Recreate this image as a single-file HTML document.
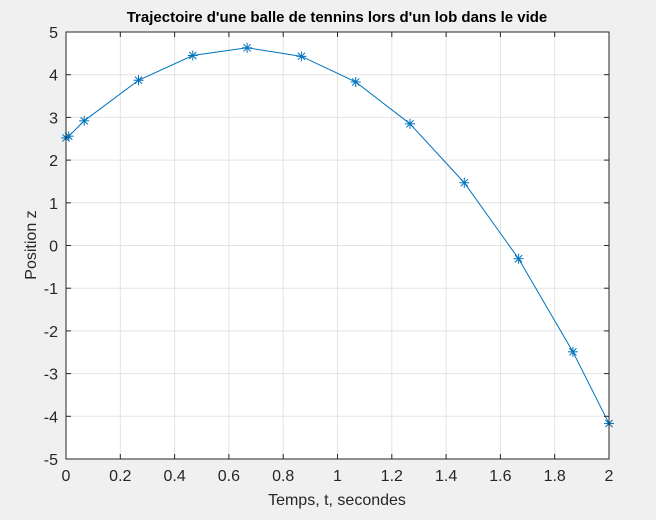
<!DOCTYPE html>
<html><head><meta charset="utf-8"><style>
html,body{margin:0;padding:0;background:#f0f0f0;}
svg{display:block;font-family:"Liberation Sans",Arial,sans-serif;}
</style></head><body>
<svg id="chart" width="656" height="520">
<rect x="0" y="0" width="656" height="520" fill="#f0f0f0"/>
<rect x="66" y="32" width="543" height="427" fill="#ffffff"/>
<g id="grid"></g>
<g id="series"></g>
<rect x="66" y="32" width="543" height="427" fill="none" stroke="#262626" stroke-width="1"/>
<g id="ticks"></g>
<text x="337" y="22" text-anchor="middle" font-size="15" font-weight="bold" fill="#000">Trajectoire d'une balle de tennins lors d'un lob dans le vide</text>
<text x="337" y="505" text-anchor="middle" font-size="16" fill="#262626">Temps, t, secondes</text>
<text transform="translate(36,245) rotate(-90)" text-anchor="middle" font-size="16" fill="#262626">Position z</text>
</svg>
<script>
var tValues=[0,0.01,0.067,0.267,0.467,0.667,0.867,1.067,1.267,1.467,1.667,1.867,2];
var zValues=[2.52,2.56,2.92,3.87,4.45,4.63,4.43,3.83,2.85,1.47,-0.31,-2.49,-4.17];
var xTicks=[0,0.2,0.4,0.6,0.8,1,1.2,1.4,1.6,1.8,2];
var xTickLabels=["0","0.2","0.4","0.6","0.8","1","1.2","1.4","1.6","1.8","2"];
var yTicks=[-5,-4,-3,-2,-1,0,1,2,3,4,5];
var yTickLabels=["-5","-4","-3","-2","-1","0","1","2","3","4","5"];
var NS="http://www.w3.org/2000/svg";
var L=66,R=609,T=32,B=459;
function xs(v){return L+(v-0)/(2-0)*(R-L);}
function ys(v){return B-(v+5)/10*(B-T);}
function mk(tag,attrs,parent){var e=document.createElementNS(NS,tag);for(var k in attrs)e.setAttribute(k,attrs[k]);parent.appendChild(e);return e;}
var grid=document.getElementById('grid'),ticks=document.getElementById('ticks'),series=document.getElementById('series');
xTicks.forEach(function(v,i){
 var x=xs(v);
 var g=mk('line',{x1:x,y1:T,x2:x,y2:B,stroke:'#e3e3e3','stroke-width':1},grid);
 
 
 var t1=mk('line',{x1:x,y1:B,x2:x,y2:B-5,stroke:'#262626'},ticks);
 
 
 var t2=mk('line',{x1:x,y1:T,x2:x,y2:T+5,stroke:'#262626'},ticks);
 
 
 var tx=mk('text',{x:x,y:B+22,'text-anchor':'middle','font-size':'16',fill:'#262626'},ticks);
 tx.textContent=xTickLabels[i];
 
 
});
yTicks.forEach(function(v,i){
 var y=ys(v);
 var g=mk('line',{x1:L,y1:y,x2:R,y2:y,stroke:'#e3e3e3','stroke-width':1},grid);
 
 
 var t1=mk('line',{x1:L,y1:y,x2:L+5,y2:y,stroke:'#262626'},ticks);
 
 
 var t2=mk('line',{x1:R,y1:y,x2:R-5,y2:y,stroke:'#262626'},ticks);
 
 
 var tx=mk('text',{x:L-8,y:y+6,'text-anchor':'end','font-size':'16',fill:'#262626'},ticks);
 tx.textContent=yTickLabels[i];
 
 
});
var pts=tValues.map(function(t,i){return xs(t)+','+ys(zValues[i]);}).join(' ');
var line=mk('polyline',{points:pts,fill:'none',stroke:'#0072bd','stroke-width':1},series);


tValues.forEach(function(t,i){
 var x=xs(t),y=ys(zValues[i]),s=5,d=3.6;
 var g=mk('g',{stroke:'#0072bd','stroke-width':1},series);
 
 
 mk('line',{x1:x-s,y1:y,x2:x+s,y2:y},g);
 mk('line',{x1:x,y1:y-s,x2:x,y2:y+s},g);
 mk('line',{x1:x-d,y1:y-d,x2:x+d,y2:y+d},g);
 mk('line',{x1:x-d,y1:y+d,x2:x+d,y2:y-d},g);
});
</script>
</body></html>
